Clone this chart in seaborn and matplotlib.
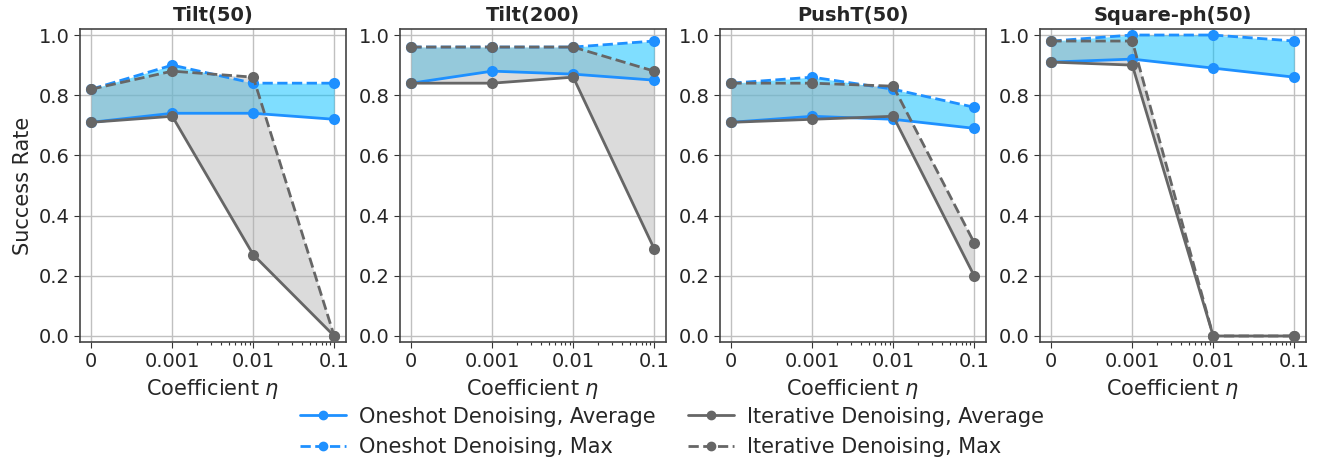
import numpy as np
import pandas as pd
import matplotlib
matplotlib.use("Agg")
import matplotlib.pyplot as plt
import seaborn as sns
from matplotlib.lines import Line2D
from matplotlib.ticker import SymmetricalLogLocator

sns.set_style("ticks")
plt.rcParams['font.family'] = ['DejaVu Sans']

coef = [0.0, 0.001, 0.01, 0.1]
xticklabels = ["0", "0.001", "0.01", "0.1"]
titles = ["Tilt(50)", "Tilt(200)", "PushT(50)", "Square-ph(50)"]

oneshot_avg = [
    [0.71, 0.74, 0.74, 0.72],
    [0.84, 0.88, 0.87, 0.85],
    [0.71, 0.73, 0.72, 0.69],
    [0.91, 0.92, 0.89, 0.86],
]
oneshot_max = [
    [0.82, 0.90, 0.84, 0.84],
    [0.96, 0.96, 0.96, 0.98],
    [0.84, 0.86, 0.82, 0.76],
    [0.98, 1.00, 1.00, 0.98],
]
iter_avg = [
    [0.71, 0.73, 0.27, 0.00],
    [0.84, 0.84, 0.86, 0.29],
    [0.71, 0.72, 0.73, 0.20],
    [0.91, 0.90, 0.00, 0.00],
]
iter_max = [
    [0.82, 0.88, 0.86, 0.00],
    [0.96, 0.96, 0.96, 0.88],
    [0.84, 0.84, 0.83, 0.31],
    [0.98, 0.98, 0.00, 0.00],
]

blue = "#1E90FF"
blue_fill = "#00BFFF"
gray = "#666666"
gray_fill = "#b0b0b0"

fig = plt.figure(figsize=(13.23, 4.62), dpi=100)
lefts = [80, 400, 720, 1040]
width = 266
top_px, bottom_px = 29, 342
W, H = 1323, 462
axes = []
for l in lefts:
    ax = fig.add_axes([l / W, 1 - bottom_px / H, width / W, (bottom_px - top_px) / H])
    axes.append(ax)

for i, ax in enumerate(axes):
    ax.set_xscale("symlog", linthresh=1e-3, linscale=0.9)
    ax.fill_between(coef, oneshot_avg[i], oneshot_max[i], color=blue_fill, alpha=0.5, lw=0, zorder=1)
    ax.fill_between(coef, iter_avg[i], iter_max[i], color=gray_fill, alpha=0.45, lw=0, zorder=1)
    sns.lineplot(x=coef, y=oneshot_avg[i], ax=ax, color=blue, lw=2, marker="o", markersize=8,
                 markeredgewidth=0, linestyle="-", zorder=3)
    sns.lineplot(x=coef, y=oneshot_max[i], ax=ax, color=blue, lw=2, marker="o", markersize=8,
                 markeredgewidth=0, linestyle="--", zorder=3)
    sns.lineplot(x=coef, y=iter_avg[i], ax=ax, color=gray, lw=2, marker="o", markersize=8,
                 markeredgewidth=0, linestyle="-", zorder=4)
    sns.lineplot(x=coef, y=iter_max[i], ax=ax, color=gray, lw=2, marker="o", markersize=8,
                 markeredgewidth=0, linestyle="--", zorder=4)
    ax.set_xticks(coef)
    ax.set_xticklabels(xticklabels)
    ax.xaxis.set_minor_locator(SymmetricalLogLocator(linthresh=1e-3, base=10, subs=np.arange(2, 10)))
    ax.set_xlim(-0.00014, 0.14)
    ax.set_ylim(-0.02, 1.02)
    ax.set_yticks([0.0, 0.2, 0.4, 0.6, 0.8, 1.0])
    ax.grid(True, which="major", color="#c0c0c0", lw=1)
    ax.set_axisbelow(True)
    ax.tick_params(axis="both", which="major", labelsize=14, length=4, color="#333333")
    ax.tick_params(axis="x", which="minor", length=2.5, width=0.8, color="#333333")
    ax.set_title(titles[i], fontsize=14, fontweight="bold")
    ax.set_xlabel(r"Coefficient $\eta$", fontsize=15)
    if i == 0:
        ax.set_ylabel("Success Rate", fontsize=15)
    else:
        ax.set_ylabel("")
    for sp in ax.spines.values():
        sp.set_color("#444444")
        sp.set_linewidth(1.2)

handles = [
    Line2D([], [], color=blue, lw=2, marker="o", markersize=6, linestyle="-"),
    Line2D([], [], color=blue, lw=2, marker="o", markersize=6, linestyle="--"),
    Line2D([], [], color=gray, lw=2, marker="o", markersize=6, linestyle="-"),
    Line2D([], [], color=gray, lw=2, marker="o", markersize=6, linestyle="--"),
]
labels = ["Oneshot Denoising, Average", "Oneshot Denoising, Max",
          "Iterative Denoising, Average", "Iterative Denoising, Max"]
fig.legend(handles, labels, ncol=2, loc="center", bbox_to_anchor=(672 / W, 1 - 432 / H),
           frameon=False, fontsize=15, columnspacing=1.6, handlelength=2.2,
           handletextpad=0.6, labelspacing=0.5)

fig.savefig("out.png", dpi=100)
